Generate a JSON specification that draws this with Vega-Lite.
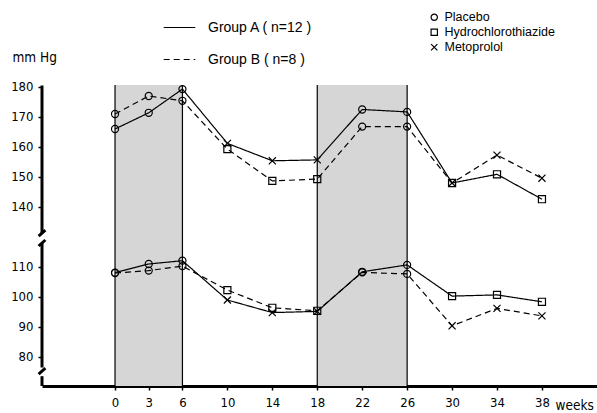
{
  "$schema": "https://vega.github.io/schema/vega-lite/v6.json",
  "width": 555,
  "height": 306,
  "autosize": {"type": "none"},
  "padding": {"left": 42, "top": 80, "right": 0, "bottom": 27},
  "background": "white",
  "config": {
    "view": {"stroke": null},
    "font": "DejaVu Sans Condensed, sans-serif",
    "axis": {
      "grid": false,
      "labelFont": "DejaVu Sans Condensed, sans-serif",
      "labelFontSize": 13,
      "labelColor": "black",
      "labelOverlap": false,
      "tickColor": "black",
      "domainColor": "black",
      "titleFont": "DejaVu Sans Condensed, sans-serif",
      "titleFontSize": 13.5,
      "titleFontWeight": "normal",
      "titleColor": "black"
    },
    "legend": {
      "labelFont": "Liberation Sans, sans-serif",
      "labelColor": "black",
      "padding": 0
    }
  },
  "datasets": {
    "bp": [
      {"week": 0, "value": 166, "group": "Group A ( n=12 )", "measure": "systolic", "drug": "Placebo"},
      {"week": 3, "value": 171.4, "group": "Group A ( n=12 )", "measure": "systolic", "drug": "Placebo"},
      {"week": 6, "value": 179.3, "group": "Group A ( n=12 )", "measure": "systolic", "drug": "Placebo"},
      {"week": 10, "value": 161.2, "group": "Group A ( n=12 )", "measure": "systolic", "drug": "Metoprolol"},
      {"week": 14, "value": 155.4, "group": "Group A ( n=12 )", "measure": "systolic", "drug": "Metoprolol"},
      {"week": 18, "value": 155.7, "group": "Group A ( n=12 )", "measure": "systolic", "drug": "Metoprolol"},
      {"week": 22, "value": 172.5, "group": "Group A ( n=12 )", "measure": "systolic", "drug": "Placebo"},
      {"week": 26, "value": 171.7, "group": "Group A ( n=12 )", "measure": "systolic", "drug": "Placebo"},
      {"week": 30, "value": 148, "group": "Group A ( n=12 )", "measure": "systolic", "drug": "Hydrochlorothiazide"},
      {"week": 34, "value": 150.9, "group": "Group A ( n=12 )", "measure": "systolic", "drug": "Hydrochlorothiazide"},
      {"week": 38, "value": 142.6, "group": "Group A ( n=12 )", "measure": "systolic", "drug": "Hydrochlorothiazide"},
      {"week": 0, "value": 108.1, "group": "Group A ( n=12 )", "measure": "diastolic", "drug": "Placebo"},
      {"week": 3, "value": 111, "group": "Group A ( n=12 )", "measure": "diastolic", "drug": "Placebo"},
      {"week": 6, "value": 112.1, "group": "Group A ( n=12 )", "measure": "diastolic", "drug": "Placebo"},
      {"week": 10, "value": 99, "group": "Group A ( n=12 )", "measure": "diastolic", "drug": "Metoprolol"},
      {"week": 14, "value": 94.8, "group": "Group A ( n=12 )", "measure": "diastolic", "drug": "Metoprolol"},
      {"week": 18, "value": 95.2, "group": "Group A ( n=12 )", "measure": "diastolic", "drug": "Metoprolol"},
      {"week": 22, "value": 108.4, "group": "Group A ( n=12 )", "measure": "diastolic", "drug": "Placebo"},
      {"week": 26, "value": 110.7, "group": "Group A ( n=12 )", "measure": "diastolic", "drug": "Placebo"},
      {"week": 30, "value": 100.3, "group": "Group A ( n=12 )", "measure": "diastolic", "drug": "Hydrochlorothiazide"},
      {"week": 34, "value": 100.7, "group": "Group A ( n=12 )", "measure": "diastolic", "drug": "Hydrochlorothiazide"},
      {"week": 38, "value": 98.4, "group": "Group A ( n=12 )", "measure": "diastolic", "drug": "Hydrochlorothiazide"},
      {"week": 0, "value": 171, "group": "Group B ( n=8 )", "measure": "systolic", "drug": "Placebo"},
      {"week": 3, "value": 177, "group": "Group B ( n=8 )", "measure": "systolic", "drug": "Placebo"},
      {"week": 6, "value": 175.4, "group": "Group B ( n=8 )", "measure": "systolic", "drug": "Placebo"},
      {"week": 10, "value": 159.3, "group": "Group B ( n=8 )", "measure": "systolic", "drug": "Hydrochlorothiazide"},
      {"week": 14, "value": 148.7, "group": "Group B ( n=8 )", "measure": "systolic", "drug": "Hydrochlorothiazide"},
      {"week": 18, "value": 149.3, "group": "Group B ( n=8 )", "measure": "systolic", "drug": "Hydrochlorothiazide"},
      {"week": 22, "value": 166.8, "group": "Group B ( n=8 )", "measure": "systolic", "drug": "Placebo"},
      {"week": 26, "value": 166.8, "group": "Group B ( n=8 )", "measure": "systolic", "drug": "Placebo"},
      {"week": 30, "value": 148, "group": "Group B ( n=8 )", "measure": "systolic", "drug": "Metoprolol"},
      {"week": 34, "value": 157.3, "group": "Group B ( n=8 )", "measure": "systolic", "drug": "Metoprolol"},
      {"week": 38, "value": 149.6, "group": "Group B ( n=8 )", "measure": "systolic", "drug": "Metoprolol"},
      {"week": 0, "value": 108, "group": "Group B ( n=8 )", "measure": "diastolic", "drug": "Placebo"},
      {"week": 3, "value": 108.8, "group": "Group B ( n=8 )", "measure": "diastolic", "drug": "Placebo"},
      {"week": 6, "value": 110.3, "group": "Group B ( n=8 )", "measure": "diastolic", "drug": "Placebo"},
      {"week": 10, "value": 102.3, "group": "Group B ( n=8 )", "measure": "diastolic", "drug": "Hydrochlorothiazide"},
      {"week": 14, "value": 96.4, "group": "Group B ( n=8 )", "measure": "diastolic", "drug": "Hydrochlorothiazide"},
      {"week": 18, "value": 95.4, "group": "Group B ( n=8 )", "measure": "diastolic", "drug": "Hydrochlorothiazide"},
      {"week": 22, "value": 108.2, "group": "Group B ( n=8 )", "measure": "diastolic", "drug": "Placebo"},
      {"week": 26, "value": 107.7, "group": "Group B ( n=8 )", "measure": "diastolic", "drug": "Placebo"},
      {"week": 30, "value": 90.4, "group": "Group B ( n=8 )", "measure": "diastolic", "drug": "Metoprolol"},
      {"week": 34, "value": 96.2, "group": "Group B ( n=8 )", "measure": "diastolic", "drug": "Metoprolol"},
      {"week": 38, "value": 93.7, "group": "Group B ( n=8 )", "measure": "diastolic", "drug": "Metoprolol"}
    ],
    "periods": [
      {"start": 0, "end": 6},
      {"start": 18, "end": 26}
    ],
    "edges": [
      {"week": 0}, {"week": 6}, {"week": 18}, {"week": 26}
    ],
    "yaxisline": [
      {"xa": -6.5, "xb": -6.5, "ya": 131.3, "yb": 180.5, "part": "upper"},
      {"xa": -6.8, "xb": -6.2, "ya": 130.3, "yb": 132.3, "part": "slash1"},
      {"xa": -6.5, "xb": -6.5, "ya": 76.5, "yb": 118, "part": "lower"},
      {"xa": -6.8, "xb": -6.2, "ya": 117, "yb": 119, "part": "slash2"},
      {"xa": -6.8, "xb": -6.2, "ya": 74.3, "yb": 76.3, "part": "slash3"},
      {"xa": -6.5, "xb": -6.5, "ya": 70.33, "yb": 73.6, "part": "bottom"}
    ]
  },
  "layer": [
    {
      "data": {"name": "periods"},
      "mark": {"type": "rect", "fill": "#d6d6d6"},
      "encoding": {
        "x": {"field": "start", "type": "quantitative",
              "scale": {"domain": [-6.5, 42.9], "nice": false, "zero": false},
              "axis": {"values": [0, 3, 6, 10, 14, 18, 22, 26, 30, 34, 38], "tickCount": 30, "domainWidth": 3, "tickWidth": 1.5, "tickSize": 4, "labelPadding": 6,
                       "title": "weeks", "titleX": 513, "titleY": 19, "titleAlign": "left", "titleBaseline": "middle", "titleAnchor": null}},
        "x2": {"field": "end"},
        "y": {"datum": 70.33, "type": "quantitative",
              "scale": {"domain": [70.33, 120, 130, 182.33], "range": [306, 157, 157, 0], "nice": false, "zero": false},
              "axis": {"values": [80, 90, 100, 110, 140, 150, 160, 170, 180], "tickCount": 30, "domain": false, "tickWidth": 1.5, "tickSize": 4, "labelPadding": 5,
                       "title": "mm Hg", "titleAngle": 0, "titleX": -30, "titleY": -23, "titleAlign": "left", "titleBaseline": "middle", "titleAnchor": null}},
        "y2": {"datum": 180.7}
      }
    },
    {
      "data": {"name": "edges"},
      "mark": {"type": "rule", "color": "black", "strokeWidth": 1.2},
      "encoding": {
        "x": {"field": "week", "type": "quantitative"},
        "y": {"datum": 70.33, "type": "quantitative"},
        "y2": {"datum": 180.7}
      }
    },
    {
      "data": {"name": "yaxisline"},
      "mark": {"type": "rule", "color": "black", "strokeWidth": 3},
      "encoding": {
        "x": {"field": "xa", "type": "quantitative"},
        "x2": {"field": "xb"},
        "y": {"field": "ya", "type": "quantitative"},
        "y2": {"field": "yb"},
        "detail": {"field": "part"}
      }
    },
    {
      "data": {"name": "bp"},
      "mark": {"type": "line", "color": "black", "strokeWidth": 1.2},
      "encoding": {
        "x": {"field": "week", "type": "quantitative"},
        "y": {"field": "value", "type": "quantitative"},
        "detail": {"field": "measure"},
        "strokeDash": {"field": "group", "type": "nominal",
          "scale": {"domain": ["Group A ( n=12 )", "Group B ( n=8 )"], "range": [[1, 0], [6, 4]]},
          "legend": {"title": null, "orient": "none", "legendX": 121, "legendY": -69, "symbolSize": 1000, "symbolStrokeWidth": 1.2, "symbolStrokeColor": "black",
                     "labelFontSize": 14, "labelOffset": 12, "rowPadding": 8}}
      }
    },
    {
      "data": {"name": "bp"},
      "mark": {"type": "point", "filled": false, "color": "black", "strokeWidth": 1.2, "opacity": 1, "size": 50},
      "encoding": {
        "x": {"field": "week", "type": "quantitative"},
        "y": {"field": "value", "type": "quantitative"},
        "shape": {"field": "drug", "type": "nominal",
          "scale": {"domain": ["Placebo", "Hydrochlorothiazide", "Metoprolol"], "range": ["circle", "square", "M-1,-1L1,1M1,-1L-1,1"]},
          "legend": {"title": null, "orient": "none", "legendX": 386, "legendY": -69, "symbolSize": 40, "symbolStrokeWidth": 1.2,
                     "labelFontSize": 12.5, "labelOffset": 4, "rowPadding": 2}}
      }
    }
  ]
}
